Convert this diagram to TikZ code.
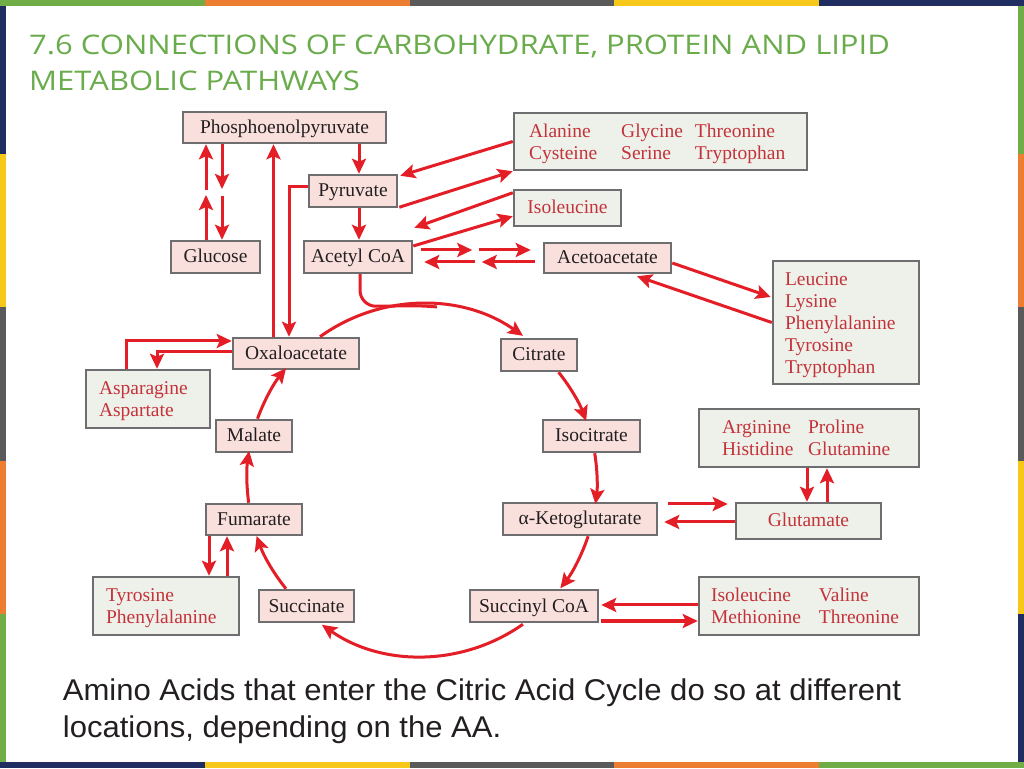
\documentclass[tikz,border=0pt]{standalone}
\usepackage{fontspec}
\setmainfont{Liberation Serif}
\newfontfamily\titlefont{Open Sans}
\newfontfamily\bodyfont{Liberation Sans}
\newfontfamily\dfont{Liberation Serif}
\usetikzlibrary{arrows.meta,calc}
\newcommand{\lowr}[1]{\raisebox{-2.5pt}[\height][\depth]{#1}}
\definecolor{bGreen}{RGB}{112,173,71}
\definecolor{bOrange}{RGB}{237,125,49}
\definecolor{bGray}{RGB}{90,90,90}
\definecolor{bYellow}{RGB}{245,200,25}
\definecolor{bNavy}{RGB}{31,45,96}
\definecolor{titleGreen}{RGB}{106,172,76}
\definecolor{arrowRed}{RGB}{228,30,38}
\definecolor{boxPink}{RGB}{249,224,220}
\definecolor{boxGreen}{RGB}{238,241,234}
\definecolor{boxBorder}{RGB}{110,110,112}
\definecolor{redText}{RGB}{196,50,58}
\definecolor{darkText}{RGB}{35,31,32}
\tikzset{
  pbox/.style={draw=boxBorder, line width=2.5pt, fill=boxPink, text=darkText,
    font=\dfont\fontsize{19.5}{22}\selectfont, inner sep=0pt, minimum height=32pt,
    text height=16pt, text depth=4pt},
  gbox/.style={draw=boxBorder, line width=2.5pt, fill=boxGreen, text=redText,
    font=\dfont\fontsize{19.5}{22}\selectfont, inner ysep=0pt},
  arr/.style={draw=arrowRed, line width=3pt, -{Stealth[length=15pt,width=14pt,inset=3pt]}},
  ln/.style={draw=arrowRed, line width=3pt},
  ttl/.style={anchor=base west, text=titleGreen, font=\titlefont\fontsize{27}{37}\selectfont, inner sep=0pt},
  btxt/.style={anchor=base west, text=darkText, font=\bodyfont\fontsize{30}{37}\selectfont, inner sep=0pt}
}
\begin{document}
\begin{tikzpicture}[x=1pt,y=1pt]
\useasboundingbox (0,0) rectangle (1024,768);
\fill[white] (0,0) rectangle (1024,768);
% frame strips
\fill[bGreen]  (0,762) rectangle (204.8,768);
\fill[bOrange] (204.8,762) rectangle (409.6,768);
\fill[bGray]   (409.6,762) rectangle (614.4,768);
\fill[bYellow] (614.4,762) rectangle (819.2,768);
\fill[bNavy]   (819.2,762) rectangle (1024,768);
\fill[bNavy]   (0,0) rectangle (204.8,6);
\fill[bYellow] (204.8,0) rectangle (409.6,6);
\fill[bGray]   (409.6,0) rectangle (614.4,6);
\fill[bOrange] (614.4,0) rectangle (819.2,6);
\fill[bGreen]  (819.2,0) rectangle (1024,6);
\fill[bNavy]   (0,614.4) rectangle (6,762);
\fill[bYellow] (0,460.8) rectangle (6,614.4);
\fill[bGray]   (0,307.2) rectangle (6,460.8);
\fill[bOrange] (0,153.6) rectangle (6,307.2);
\fill[bGreen]  (0,6) rectangle (6,153.6);
\fill[bGreen]  (1018,614.4) rectangle (1024,762);
\fill[bOrange] (1018,460.8) rectangle (1024,614.4);
\fill[bGray]   (1018,307.2) rectangle (1024,460.8);
\fill[bYellow] (1018,153.6) rectangle (1024,307.2);
\fill[bNavy]   (1018,6) rectangle (1024,153.6);

% title and caption
\node[ttl] (t1) at (29,713.7) {\scalebox{1.148}[1]{7.6 CONNECTIONS OF CARBOHYDRATE, PROTEIN AND LIPID}};
\node[ttl] (t2) at (29,677) {\scalebox{1.148}[1]{METABOLIC PATHWAYS}};
\node[btxt] (c1) at (62.7,68) {\scalebox{1.035}[1]{Amino Acids that enter the Citric Acid Cycle do so at different}};
\node[btxt] (c2) at (62.7,31) {\scalebox{1.035}[1]{locations, depending on the AA.}};

% boxes
\node[pbox, minimum width=203pt, minimum height=31pt] (pep) at (284.5,640.5) {Phosphoenolpyruvate};
\node[pbox, minimum width=88pt] (pyr) at (353,577) {Pyruvate};
\node[pbox, minimum width=89pt] (glu) at (215.5,511) {Glucose};
\node[pbox, minimum width=108pt] (acoa) at (358,511) {Acetyl CoA};
\node[gbox, align=left, inner xsep=15pt, text width=263pt, minimum height=57pt] (ala) at (660.5,626.5)
  {\lowr{\begin{tabular}{@{}l@{\hspace{24pt}}l@{\hspace{12pt}}l@{}}Alanine & Glycine & Threonine\\Cysteine & Serine & Tryptophan\end{tabular}}};
\node[gbox, align=center, inner xsep=4pt, minimum width=107pt, minimum height=36pt, text height=16pt, text depth=4pt] (iso1) at (567.5,560) {Isoleucine};
\node[pbox, minimum width=127pt, minimum height=30pt] (aceto) at (607.5,510) {Acetoacetate};
\node[gbox, align=left, inner xsep=12pt, text width=122pt, minimum height=123pt] (leu) at (846,445.5)
  {\lowr{\begin{tabular}{@{}l@{}}Leucine\\Lysine\\Phenylalanine\\Tyrosine\\Tryptophan\end{tabular}}};
\node[pbox, minimum width=126pt, minimum height=31pt] (oxa) at (296,414.5) {Oxaloacetate};
\node[pbox, minimum width=76pt] (cit) at (539,413) {Citrate};
\node[gbox, align=left, inner xsep=13pt, text width=98pt, minimum height=58pt] (asp) at (148,369)
  {\lowr{\begin{tabular}{@{}l@{}}Asparagine\\Aspartate\end{tabular}}};
\node[pbox, minimum width=76pt] (mal) at (254,332) {Malate};
\node[pbox, minimum width=97pt] (isocit) at (591.5,332) {Isocitrate};
\node[gbox, align=left, inner xsep=23pt, text width=174pt, minimum height=58pt] (arg) at (809,330)
  {\lowr{\begin{tabular}{@{}l@{\hspace{14.5pt}}l@{}}Arginine & Proline\\Histidine & Glutamine\end{tabular}}};
\node[pbox, minimum width=96pt, minimum height=31pt] (fum) at (254,248.5) {Fumarate};
\node[pbox, minimum width=154pt] (akg) at (580,249) {α-Ketoglutarate};
\node[gbox, align=center, inner xsep=4pt, minimum width=145pt, minimum height=36pt, text height=16pt, text depth=4pt] (glut) at (808.5,247) {Glutamate};
\node[gbox, align=left, inner xsep=13pt, text width=120pt, minimum height=58pt] (tyr) at (166,162)
  {\lowr{\begin{tabular}{@{}l@{}}Tyrosine\\Phenylalanine\end{tabular}}};
\node[pbox, minimum width=95pt] (succ) at (306.5,162) {Succinate};
\node[pbox, minimum width=128pt] (scoa) at (534,162) {Succinyl CoA};
\node[gbox, align=left, inner xsep=12pt, text width=196pt, minimum height=58pt] (ile2) at (809,162)
  {\lowr{\begin{tabular}{@{}l@{\hspace{18pt}}l@{}}Isoleucine & Valine\\Methionine & Threonine\end{tabular}}};

% PEP <-> glucose (multi-step)
\coordinate (g1) at (206,578);
\coordinate (g2) at (206,573);
\coordinate (g3) at (222,579);
\coordinate (g4) at (222,572);
\draw[arr] (glu.north -| g2) -- (g2);
\draw[arr] (g1) -- (pep.south -| g1);
\draw[arr] (pep.south -| g3) -- (g3);
\draw[arr] (g4) -- (glu.north -| g4);

% left column
\draw[arr] ([xshift=-22.5pt]oxa.north) -- ([xshift=-22.5pt]oxa.north |- pep.south);
\draw[arr] ([yshift=4pt]pyr.west) -| ([xshift=-7pt]oxa.north);
\draw[arr] ([xshift=6pt]pyr.north |- pep.south) -- ([xshift=6pt]pyr.north);
\draw[arr] ([xshift=6pt]pyr.south) -- ([xshift=6pt]pyr.south |- acoa.north);

% amino acids to pyruvate / acetyl CoA
\draw[arr] (ala.west) -- ([shift={(2pt,-2pt)}]pyr.north east);
\draw[arr] ([shift={(1pt,1pt)}]pyr.south east) -- (ala.south west);
\draw[arr] ([yshift=-4pt]iso1.north west) -- ([shift={(1pt,12pt)}]acoa.north east);
\draw[arr] ([yshift=11pt]acoa.east) -- ([yshift=11pt]iso1.south west);

% acetyl CoA <-> acetoacetate (multi-step)
\draw[arr] ([shift={(8pt,7pt)}]acoa.east) -- ++(51pt,0);
\draw[arr] ([shift={(-64pt,8pt)}]aceto.west) -- ([shift={(-12pt,8pt)}]aceto.west);
\draw[arr] ([shift={(-8pt,-4pt)}]aceto.west) -- ++(-53pt,0);
\draw[arr] ([shift={(62pt,-5pt)}]acoa.east) -- ([shift={(11pt,-5pt)}]acoa.east);

% acetoacetate <-> leucine group
\draw[arr] ([yshift=-5pt]aceto.east) -- ([shift={(-1pt,25.5pt)}]leu.west);
\draw[arr] (leu.west) -- ([shift={(29.5pt,-2pt)}]aceto.south);

% asparagine <-> oxaloacetate
\draw[arr] ([xshift=-22pt]asp.north) |- ([yshift=12.5pt]oxa.west);
\draw[arr] ([yshift=1.5pt]oxa.west) -| ([xshift=9pt]asp.north);

% fumarate <-> tyrosine
\draw[arr] ([xshift=-45pt]fum.south) -- ([xshift=-45pt]fum.south |- tyr.north);
\draw[arr] ([xshift=61pt]tyr.north) -- ([xshift=61pt]tyr.north |- fum.south);

% arginine group <-> glutamate
\draw[arr] ([xshift=-2pt]arg.south) -- ([xshift=-2pt]arg.south |- glut.north);
\draw[arr] ([xshift=18pt]arg.south |- glut.north) -- ([xshift=18pt]arg.south);

% alpha-KG <-> glutamate
\draw[arr] ([shift={(10pt,15pt)}]akg.east) -- ([shift={(-7pt,17pt)}]glut.west);
\draw[arr] ([yshift=-1pt]glut.west) -- ([shift={(6pt,-3pt)}]akg.east);

% succinyl CoA <-> isoleucine group
\draw[arr] ([yshift=1pt]ile2.west) -- ([shift={(2pt,1pt)}]scoa.east);
\draw[arr] ([shift={(2pt,-15pt)}]scoa.east) -- ([yshift=-15pt]ile2.west);

% citric acid cycle (centre 422,288, radius 175)
\draw[ln] ([xshift=2pt]acoa.south) -- ++(0,-16pt) to[out=-90,in=180] ++(16pt,-16pt)
  to[out=0,in=175] ++(61pt,-0.7pt);
\draw[arr] ([xshift=24pt]oxa.north) arc[start angle=125.7, end angle=54.8, radius=175pt];
\draw[arr] ([xshift=19.6pt]cit.south) arc[start angle=38.7, end angle=20.3, radius=175pt];
\draw[arr] ([xshift=3.2pt]isocit.south) arc[start angle=9.2, end angle=-7.5, radius=175pt];
\draw[arr] ([xshift=8.1pt]akg.south) arc[start angle=-18.4, end angle=-37.8, radius=175pt];
\draw[arr] ([shift={(-11.1pt,-1pt)}]scoa.south) arc[start angle=-54.8, end angle=-124.9, radius=175pt];
\draw[arr] ([xshift=-20.5pt]succ.north) arc[start angle=219, end angle=199.1, radius=175pt];
\draw[arr] ([xshift=-5.3pt]fum.north) arc[start angle=188, end angle=171, radius=175pt];
\draw[arr] ([xshift=3.5pt]mal.north) arc[start angle=160.1, end angle=141, radius=175pt];
\end{tikzpicture}
\end{document}
